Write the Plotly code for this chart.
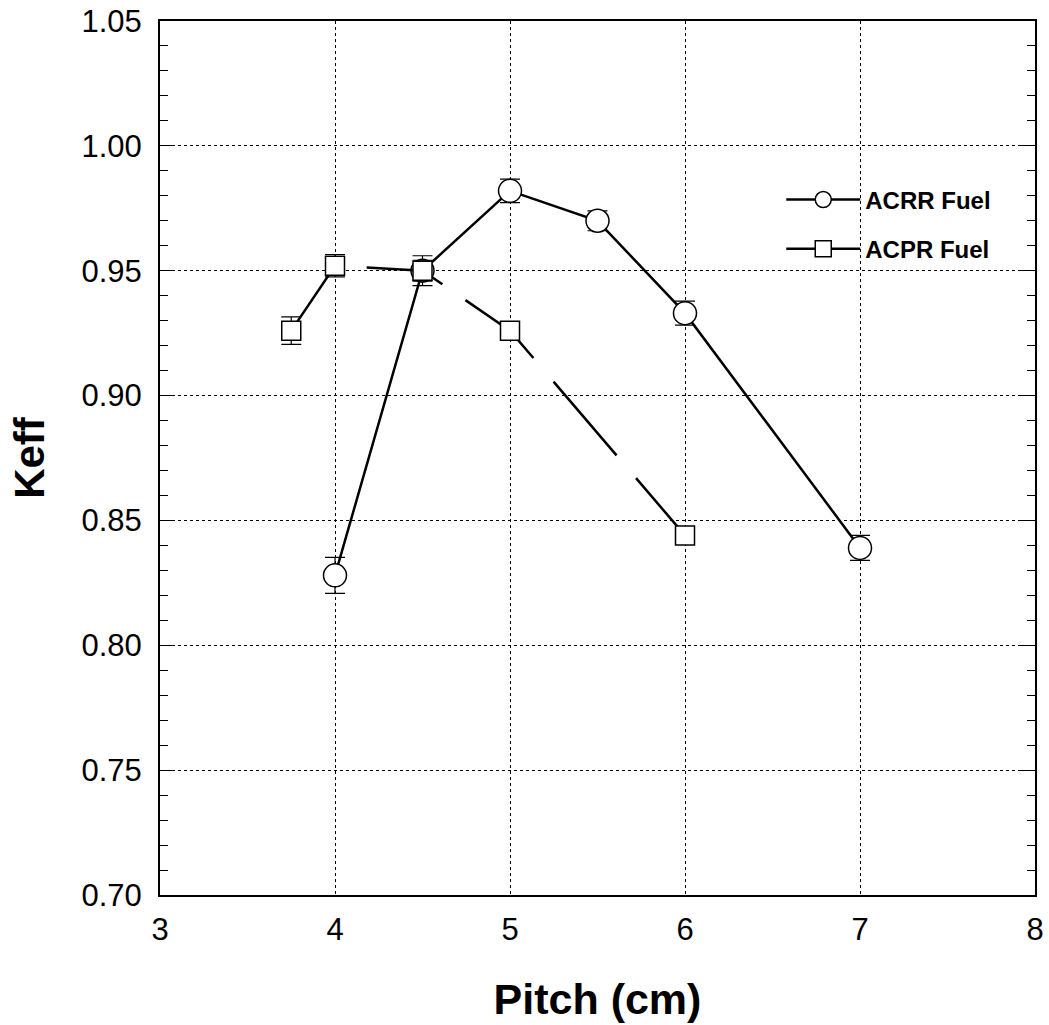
import plotly.graph_objects as go

# ACRR Fuel
acrr_x = [4.0, 4.5, 5.0, 5.5, 6.0, 7.0]
acrr_y = [0.828, 0.950, 0.982, 0.970, 0.933, 0.839]
acrr_err = [0.0072, 0.0060, 0.0047, 0.0040, 0.0048, 0.0050]

# ACPR Fuel
acpr_x = [3.75, 4.0, 4.5, 5.0, 6.0]
acpr_y = [0.926, 0.952, 0.950, 0.926, 0.844]
acpr_err = [0.0055, 0.0045, 0.0042, 0.0030, 0.0030]

x_ticks = [3, 4, 5, 6, 7, 8]
y_ticks = [0.70, 0.75, 0.80, 0.85, 0.90, 0.95, 1.00, 1.05]

fig = go.Figure()

fig.add_trace(go.Scatter(
    x=acrr_x, y=acrr_y, name="ACRR Fuel", mode="lines+markers", legendgroup="a",
    line=dict(color="black", width=2.5),
    marker=dict(symbol="circle", size=23, color="white",
                line=dict(color="black", width=1.5)),
    error_y=dict(type="data", array=acrr_err, color="black", thickness=1.2, width=10),
))

fig.add_trace(go.Scatter(
    x=acpr_x, y=acpr_y, name="ACPR Fuel", mode="lines+markers", legendgroup="b",
    line=dict(color="black", width=2.5,
              dash="80px,30px,80px,28px,90px,31px,97px,30px,100px,30px"),
    marker=dict(symbol="square", size=19, color="white",
                line=dict(color="black", width=1.5)),
    error_y=dict(type="data", array=acpr_err, color="black", thickness=1.2, width=10),
))

axis_font = dict(family="Liberation Sans, Arial, sans-serif", size=31, color="black")
xtitle_font = dict(family="Liberation Sans, Arial, sans-serif", size=43, color="black")
ytitle_font = dict(family="Liberation Sans, Arial, sans-serif", size=42, color="black")

fig.update_layout(
    width=1049, height=1025,
    margin=dict(l=160, r=14, t=21, b=130, autoexpand=False),
    paper_bgcolor="white", plot_bgcolor="white",
    showlegend=True,
    legend=dict(
        x=0.71, y=0.821, xanchor="left", yanchor="top",
        bgcolor="rgba(0,0,0,0)",
        font=dict(family="Liberation Sans, Arial, sans-serif",
                  size=24, color="black", weight="bold"),
        itemwidth=74, tracegroupgap=15,
    ),
    xaxis=dict(
        range=[3, 8], tickvals=x_ticks, ticktext=[str(v) for v in x_ticks],
        showline=True, linecolor="black", linewidth=2, mirror=True,
        ticks="", tickfont=axis_font, ticklabelstandoff=6, ticklabeloverflow="allow",
        automargin=False,
        showgrid=True, gridcolor="black", gridwidth=1, griddash="dot",
        zeroline=False,
        title=dict(text="<b>Pitch (cm)</b>", font=xtitle_font, standoff=38),
    ),
    yaxis=dict(
        range=[0.70, 1.05], tickvals=y_ticks, ticktext=[f"{v:.2f}" for v in y_ticks],
        showline=True, linecolor="black", linewidth=2, mirror="ticks",
        ticks="inside", ticklen=14, tickwidth=1, tickcolor="black", tickfont=axis_font,
        ticklabelstandoff=10, ticklabeloverflow="allow", automargin=False,
        minor=dict(dtick=0.01, tick0=0.70, ticks="inside", ticklen=8, tickwidth=1,
                   tickcolor="black", showgrid=False),
        showgrid=True, gridcolor="black", gridwidth=1, griddash="dot",
        zeroline=False,
        title=dict(text="<b>Keff</b>", font=ytitle_font, standoff=24),
    ),
)

fig.write_html(
    "out.html",
    config={"displayModeBar": False},
    post_script="document.body.style.margin='0px';document.body.style.overflow='hidden';",
)
